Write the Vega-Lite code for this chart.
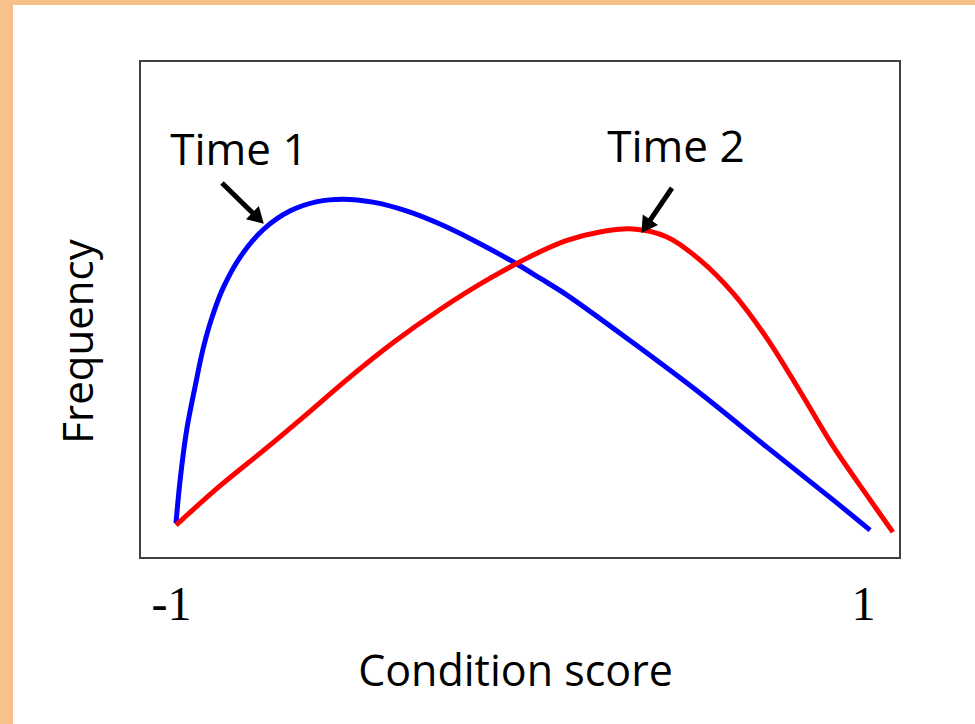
{
  "$schema": "https://vega.github.io/schema/vega-lite/v6.json",
  "autosize": {"type": "none"},
  "width": 760,
  "height": 497,
  "padding": {"left": 140, "top": 61, "right": 75, "bottom": 166},
  "background": "#ffffff",
  "config": {
    "view": {"stroke": "#404040", "strokeWidth": 2, "fill": "#ffffff"},
    "axis": {"grid": false, "ticks": false, "tickSize": 0, "domain": false, "titleFontWeight": "normal", "titleColor": "#000000", "labelColor": "#000000"}
  },
  "datasets": {
    "curves": [
      {"series": "Time 1", "score": -1.0, "freq": 7.0},
      {"series": "Time 1", "score": -0.988, "freq": 15.7},
      {"series": "Time 1", "score": -0.969, "freq": 25.8},
      {"series": "Time 1", "score": -0.945, "freq": 34.4},
      {"series": "Time 1", "score": -0.922, "freq": 42.0},
      {"series": "Time 1", "score": -0.897, "freq": 48.2},
      {"series": "Time 1", "score": -0.864, "freq": 54.3},
      {"series": "Time 1", "score": -0.815, "freq": 60.5},
      {"series": "Time 1", "score": -0.749, "freq": 66.0},
      {"series": "Time 1", "score": -0.671, "freq": 69.8},
      {"series": "Time 1", "score": -0.592, "freq": 71.7},
      {"series": "Time 1", "score": -0.517, "freq": 72.2},
      {"series": "Time 1", "score": -0.431, "freq": 71.6},
      {"series": "Time 1", "score": -0.332, "freq": 69.8},
      {"series": "Time 1", "score": -0.237, "freq": 67.2},
      {"series": "Time 1", "score": -0.142, "freq": 64.0},
      {"series": "Time 1", "score": -0.026, "freq": 59.6},
      {"series": "Time 1", "score": 0.052, "freq": 56.3},
      {"series": "Time 1", "score": 0.13, "freq": 52.9},
      {"series": "Time 1", "score": 0.321, "freq": 43.3},
      {"series": "Time 1", "score": 0.514, "freq": 33.2},
      {"series": "Time 1", "score": 0.708, "freq": 22.3},
      {"series": "Time 1", "score": 0.899, "freq": 11.7},
      {"series": "Time 1", "score": 1.006, "freq": 5.6},
      {"series": "Time 2", "score": -1.0, "freq": 6.6},
      {"series": "Time 2", "score": -0.873, "freq": 14.5},
      {"series": "Time 2", "score": -0.737, "freq": 22.2},
      {"series": "Time 2", "score": -0.621, "freq": 29.0},
      {"series": "Time 2", "score": -0.506, "freq": 35.9},
      {"series": "Time 2", "score": -0.373, "freq": 43.3},
      {"series": "Time 2", "score": -0.237, "freq": 50.0},
      {"series": "Time 2", "score": -0.092, "freq": 56.3},
      {"series": "Time 2", "score": 0.052, "freq": 61.6},
      {"series": "Time 2", "score": 0.13, "freq": 63.9},
      {"series": "Time 2", "score": 0.225, "freq": 65.6},
      {"series": "Time 2", "score": 0.321, "freq": 66.2},
      {"series": "Time 2", "score": 0.419, "freq": 64.6},
      {"series": "Time 2", "score": 0.514, "freq": 60.0},
      {"series": "Time 2", "score": 0.61, "freq": 53.3},
      {"series": "Time 2", "score": 0.708, "freq": 44.2},
      {"series": "Time 2", "score": 0.803, "freq": 33.6},
      {"series": "Time 2", "score": 0.899, "freq": 22.5},
      {"series": "Time 2", "score": 0.997, "freq": 12.6},
      {"series": "Time 2", "score": 1.072, "freq": 5.2}
    ],
    "notes": [
      {"label": "Time 1", "tx": -0.818, "ty": 79.1, "ax": -0.867, "ay": 75.45, "hx": -0.7627, "hy": 68.37},
      {"label": "Time 2", "tx": 0.445, "ty": 79.7, "ax": 0.4335, "ay": 74.45, "hx": 0.3581, "hy": 66.74}
    ]
  },
  "layer": [
    {
      "data": {"values": [{}]},
      "mark": {"type": "rect", "color": "#F8C18C", "clip": false},
      "encoding": {
        "x": {"datum": -1.5375, "type": "quantitative", "scale": {"domain": [-1.104, 1.0925], "nice": false, "zero": false}, "axis": {"values": [-1, 1], "labelExpr": "datum.value + ''", "labelFont": "Liberation Serif", "labelFontSize": 48, "labelBaseline": "alphabetic", "labelPadding": 61, "labelOffset": -5, "title": "Condition score", "titleFont": "Open Sans", "titleFontSize": 43, "titleBaseline": "alphabetic", "titleX": 375, "titleY": 127, "titleAlign": "center"}},
        "x2": {"datum": -1.471},
        "y": {"datum": 114.3, "type": "quantitative", "scale": {"domain": [0, 100], "nice": false, "zero": false}, "axis": {"labels": false, "title": "Frequency", "titleFont": "Open Sans", "titleFontSize": 42, "titleBaseline": "alphabetic", "titleX": -48, "titleY": 280, "titleAlign": "center", "titleAngle": -90}},
        "y2": {"datum": -36.6}
      }
    },
    {
      "data": {"values": [{}]},
      "mark": {"type": "rect", "color": "#F8C18C", "clip": false},
      "encoding": {
        "x": {"datum": -1.5375, "type": "quantitative"},
        "x2": {"datum": 1.381},
        "y": {"datum": 114.3, "type": "quantitative"},
        "y2": {"datum": 111.27}
      }
    },
    {
      "data": {"name": "curves"},
      "mark": {"type": "line", "strokeWidth": 5, "interpolate": "catmull-rom"},
      "encoding": {
        "x": {"field": "score", "type": "quantitative"},
        "y": {"field": "freq", "type": "quantitative"},
        "color": {"field": "series", "type": "nominal", "scale": {"domain": ["Time 1", "Time 2"], "range": ["#0000FF", "#FF0000"]}, "legend": null}
      }
    },
    {
      "data": {"name": "notes"},
      "mark": {"type": "text", "font": "Open Sans", "fontSize": 44, "align": "center", "baseline": "alphabetic", "color": "#000000"},
      "encoding": {
        "x": {"field": "tx", "type": "quantitative"},
        "y": {"field": "ty", "type": "quantitative"},
        "text": {"field": "label"}
      }
    },
    {
      "data": {"name": "notes"},
      "mark": {"type": "rule", "strokeWidth": 5, "color": "#000000"},
      "encoding": {
        "x": {"field": "ax", "type": "quantitative"},
        "y": {"field": "ay", "type": "quantitative"},
        "x2": {"field": "hx"},
        "y2": {"field": "hy"}
      }
    },
    {
      "data": {"name": "notes"},
      "transform": [{"filter": "datum.label === 'Time 1'"}],
      "mark": {"type": "point", "shape": "triangle-up", "filled": true, "color": "#000000", "opacity": 1, "size": 340, "angle": 134.3},
      "encoding": {
        "x": {"field": "hx", "type": "quantitative"},
        "y": {"field": "hy", "type": "quantitative"}
      }
    },
    {
      "data": {"name": "notes"},
      "transform": [{"filter": "datum.label === 'Time 2'"}],
      "mark": {"type": "point", "shape": "triangle-up", "filled": true, "color": "#000000", "opacity": 1, "size": 340, "angle": 214.3},
      "encoding": {
        "x": {"field": "hx", "type": "quantitative"},
        "y": {"field": "hy", "type": "quantitative"}
      }
    }
  ]
}
